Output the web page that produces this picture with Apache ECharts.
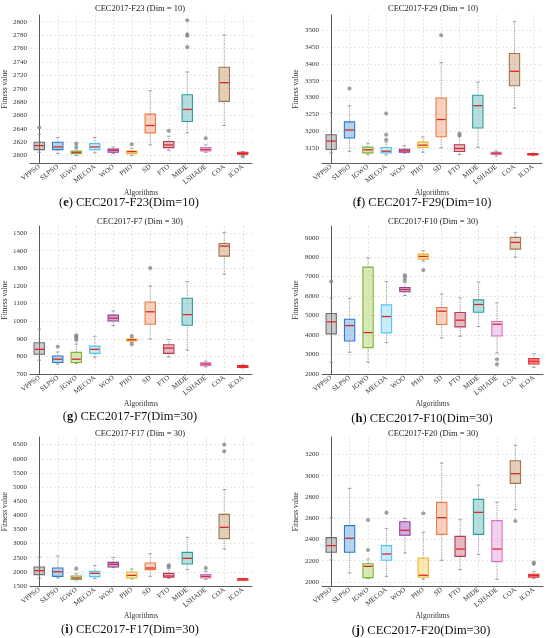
<!DOCTYPE html>
<html>
<head>
<meta charset="utf-8">
<script src="https://cdn.jsdelivr.net/npm/echarts@6.0.0/dist/echarts.min.js"></script>
<style>
  html, body { margin: 0; padding: 0; background: #fff; }
  #main { width: 550px; height: 638px; }
</style>
</head>
<body>
<div id="main"></div>
<script>
// algorithms (same order in all panels)
var algorithms = ['VPPSO', 'SLPSO', 'IGWO', 'MECOA', 'WOO', 'PHO', 'SD', 'FTO', 'MIDE', 'LSHADE', 'COA', 'ICOA'];
var algoIndex = [0, 1, 2, 3, 4, 5, 6, 7, 8, 9, 10, 11];

// box stats: [min, Q1, median, Q3, max]
var f23Stats = [
    [2605, 2609, 2615, 2620, 2632], [2603, 2609, 2613, 2620, 2627], [2600, 2603, 2605, 2607, 2610],
    [2604, 2609, 2613, 2618, 2627], [2603, 2605, 2608, 2610, 2613], [2600, 2603, 2606, 2607, 2611],
    [2616, 2634, 2645, 2662, 2697], [2608, 2612, 2616, 2621, 2629], [2634, 2651, 2669, 2691, 2725],
    [2605, 2607, 2609, 2612, 2616], [2645, 2681, 2709, 2732, 2780], [2601, 2602, 2603, 2605, 2606]
];
var f23Outliers = [[2642], [], [2613, 2618], [], [], [2617], [], [2637], [2762, 2779, 2781, 2802], [2626], [], [2599]];
var f23Ticks = [2600, 2620, 2640, 2660, 2680, 2700, 2720, 2740, 2760, 2780, 2800];
var f23Range = [2589, 2810];

var f29Stats = [
    [3136, 3146, 3171, 3190, 3255], [3141, 3180, 3204, 3228, 3276], [3131, 3136, 3145, 3153, 3165],
    [3130, 3136, 3141, 3152, 3168], [3135, 3138, 3142, 3147, 3157], [3138, 3152, 3159, 3168, 3183],
    [3151, 3184, 3235, 3299, 3404], [3131, 3140, 3149, 3160, 3184], [3153, 3210, 3276, 3307, 3346],
    [3127, 3131, 3135, 3138, 3142], [3269, 3335, 3378, 3431, 3525], [3128, 3130, 3132, 3134, 3135]
];
var f29Outliers = [[], [3327], [], [3175, 3190, 3253], [], [], [3485], [3188, 3193], [], [], [], []];
var f29Ticks = [3150, 3200, 3250, 3300, 3350, 3400, 3450, 3500];
var f29Range = [3106, 3545];

var f7Stats = [
    [778, 812, 840, 877, 955], [756, 765, 784, 802, 825], [760, 765, 784, 823, 870],
    [795, 817, 840, 858, 914], [975, 1001, 1017, 1034, 1058], [880, 888, 894, 899, 906],
    [899, 982, 1053, 1109, 1200], [797, 817, 847, 866, 896], [836, 977, 1037, 1130, 1225],
    [741, 747, 756, 763, 773], [1267, 1369, 1426, 1441, 1504], [734, 737, 743, 748, 752]
];
var f7Outliers = [[], [855], [893, 905, 912, 920], [], [], [869, 916], [1301], [], [], [], [], []];
var f7Ticks = [700, 800, 900, 1000, 1100, 1200, 1300, 1400, 1500];
var f7Range = [700, 1540];

var f10Stats = [
    [2600, 4058, 4676, 5105, 5894], [3115, 3698, 4487, 4813, 5894], [2617, 3355, 4127, 7489, 7969],
    [3612, 4110, 4950, 5551, 6751], [6030, 6220, 6340, 6443, 6700], [7800, 7900, 8038, 8158, 8329],
    [3852, 4539, 5225, 5413, 6117], [3938, 4419, 4762, 5156, 5911], [4436, 5173, 5568, 5808, 6717],
    [3080, 3955, 4556, 4693, 5654], [8003, 8415, 8758, 9015, 9256], [2343, 2515, 2652, 2789, 3046]
];
var f10Outliers = [[6751], [], [], [], [6820, 6970, 7077], [7335], [], [], [], [2755, 2497], [], []];
var f10Ticks = [2000, 3000, 4000, 5000, 6000, 7000, 8000, 9000];
var f10Range = [2000, 9600];

var f17Stats = [
    [1783, 1901, 2042, 2172, 2526], [1783, 1842, 2007, 2137, 2561], [1712, 1736, 1783, 1854, 1936],
    [1759, 1830, 1948, 2019, 2231], [2148, 2172, 2266, 2337, 2514], [1748, 1783, 1877, 1995, 2101],
    [1842, 2078, 2137, 2314, 2644], [1771, 1807, 1854, 1948, 2113], [2078, 2278, 2479, 2691, 3222],
    [1736, 1783, 1842, 1901, 2019], [2809, 3175, 3575, 4035, 4908], [1736, 1742, 1748, 1754, 1759]
];
var f17Outliers = [[], [], [2113], [], [], [], [], [2184, 2231], [], [2137], [6264, 6500], []];
var f17Ticks = [1500, 2000, 2500, 3000, 3500, 4000, 4500, 5000, 5500, 6000, 6500];
var f17Range = [1500, 6770];

var f20Stats = [
    [2207, 2279, 2342, 2417, 2605], [2085, 2279, 2411, 2530, 2881], [2031, 2041, 2147, 2172, 2216],
    [2053, 2204, 2263, 2342, 2502], [2273, 2439, 2486, 2567, 2599], [2025, 2044, 2063, 2226, 2467],
    [2204, 2448, 2605, 2749, 3119], [2116, 2241, 2310, 2429, 2586], [2257, 2448, 2655, 2777, 2912],
    [2025, 2191, 2310, 2577, 2752], [2680, 2928, 3019, 3141, 3288], [2031, 2044, 2060, 2072, 2097]
];
var f20Outliers = [[], [], [2301, 2583], [2652], [], [2646], [], [], [], [], [2574], [2172, 2182]];
var f20Ticks = [2000, 2200, 2400, 2600, 2800, 3000, 3200];
var f20Range = [1962, 3364];

// box border / fill colours per algorithm
var borderColors = ['#6f6f6f', '#2a7ccc', '#80b236', '#55c4ee', '#8e3d9e', '#f1b323',
                    '#ec7b46', '#b53a52', '#2c9d9d', '#d672cc', '#a4744b', '#ef2b2b'];
var fillColors = ['rgba(140,140,140,0.45)', 'rgba(90,155,220,0.45)', 'rgba(175,212,110,0.5)',
                  'rgba(150,218,246,0.5)', 'rgba(175,105,195,0.55)', 'rgba(250,212,110,0.5)',
                  'rgba(242,165,125,0.5)', 'rgba(212,115,135,0.5)', 'rgba(110,190,190,0.5)',
                  'rgba(232,165,226,0.5)', 'rgba(200,160,120,0.5)', 'rgba(245,90,90,0.65)'];

var FONT = 'Liberation Serif';

var panels = [
    {id: 'e', title: 'CEC2017-F23 (Dim = 10)', caption: 'CEC2017-F23(Dim=10)', stats: f23Stats, out: f23Outliers, ticks: f23Ticks, range: f23Range,
     grid: {left: 29, top: 15, width: 223, height: 148}, titleX: 140, titleY: 4, capX: 129, capY: 196},
    {id: 'f', title: 'CEC2017-F29 (Dim = 10)', caption: 'CEC2017-F29(Dim=10)', stats: f29Stats, out: f29Outliers, ticks: f29Ticks, range: f29Range,
     grid: {left: 322, top: 15, width: 220, height: 148}, titleX: 433, titleY: 4, capX: 422, capY: 196},
    {id: 'g', title: 'CEC2017-F7 (Dim = 30)', caption: 'CEC2017-F7(Dim=30)', stats: f7Stats, out: f7Outliers, ticks: f7Ticks, range: f7Range,
     grid: {left: 29, top: 226, width: 223, height: 148}, titleX: 140, titleY: 217, capX: 130, capY: 410},
    {id: 'h', title: 'CEC2017-F10 (Dim = 30)', caption: 'CEC2017-F10(Dim=30)', stats: f10Stats, out: f10Outliers, ticks: f10Ticks, range: f10Range,
     grid: {left: 322, top: 226, width: 221, height: 148}, titleX: 433, titleY: 217, capX: 422, capY: 412},
    {id: 'i', title: 'CEC2017-F17 (Dim = 30)', caption: 'CEC2017-F17(Dim=30)', stats: f17Stats, out: f17Outliers, ticks: f17Ticks, range: f17Range,
     grid: {left: 29, top: 437, width: 223, height: 149}, titleX: 140, titleY: 429, capX: 130, capY: 623},
    {id: 'j', title: 'CEC2017-F20 (Dim = 30)', caption: 'CEC2017-F20(Dim=30)', stats: f20Stats, out: f20Outliers, ticks: f20Ticks, range: f20Range,
     grid: {left: 322, top: 437, width: 221, height: 149}, titleX: 433, titleY: 429, capX: 421, capY: 624}
];

function renderBox(params, api) {
    var idx = api.value(0);
    var lo = api.coord([idx, api.value(1)]);
    var q1 = api.coord([idx, api.value(2)]);
    var md = api.coord([idx, api.value(3)]);
    var q3 = api.coord([idx, api.value(4)]);
    var hi = api.coord([idx, api.value(5)]);
    var bw = api.size([1, 0])[0] * 0.56;
    var cw = bw * 0.35;
    var x = q1[0];
    var whisker = {stroke: '#8c8c8c', lineWidth: 0.8, lineDash: [1.2, 1.2]};
    var cap = {stroke: '#8c8c8c', lineWidth: 0.8};
    return {
        type: 'group',
        children: [
            {type: 'line', shape: {x1: x, y1: lo[1], x2: x, y2: q1[1]}, style: whisker},
            {type: 'line', shape: {x1: x, y1: q3[1], x2: x, y2: hi[1]}, style: whisker},
            {type: 'line', shape: {x1: x - cw / 2, y1: lo[1], x2: x + cw / 2, y2: lo[1]}, style: cap},
            {type: 'line', shape: {x1: x - cw / 2, y1: hi[1], x2: x + cw / 2, y2: hi[1]}, style: cap},
            {type: 'rect', shape: {x: x - bw / 2, y: q3[1], width: bw, height: Math.max(q1[1] - q3[1], 1.5)},
             style: {fill: fillColors[idx], stroke: borderColors[idx], lineWidth: 1.1}},
            {type: 'line', shape: {x1: x - bw / 2 + 0.6, y1: md[1], x2: x + bw / 2 - 0.6, y2: md[1]},
             style: {stroke: '#d42a2a', lineWidth: 1.3}}
        ]
    };
}

var grids = [], xAxes = [], yAxes = [], series = [], titles = [];

panels.forEach(function (p, k) {
    grids.push(p.grid);
    // value axis with one unit per algorithm, so grid lines run through the box centres
    xAxes.push({
        type: 'value',
        gridIndex: k,
        min: -0.5,
        max: 11.5,
        name: 'Algorithms',
        nameLocation: 'middle',
        nameGap: 26,
        nameTextStyle: {fontFamily: FONT, fontSize: 7.5, color: '#333'},
        axisLine: {lineStyle: {color: '#333', width: 0.8}},
        axisTick: {show: false, customValues: algoIndex},
        axisLabel: {
            customValues: algoIndex, rotate: 38, fontFamily: FONT, fontSize: 7, color: '#333', margin: 3,
            formatter: function (v) { return algorithms[Math.round(v)]; }
        },
        splitLine: {show: true, lineStyle: {color: '#d6d6d6', type: [2, 2], width: 0.6}}
    });
    yAxes.push({
        type: 'value',
        gridIndex: k,
        min: p.range[0],
        max: p.range[1],
        name: 'Fitness value',
        nameLocation: 'middle',
        nameGap: k % 2 === 0 ? 21 : 22,
        nameTextStyle: {fontFamily: FONT, fontSize: 7.5, color: '#333'},
        axisLine: {show: true, lineStyle: {color: '#333', width: 0.8}},
        axisTick: {show: false, customValues: p.ticks},
        axisLabel: {customValues: p.ticks, fontFamily: FONT, fontSize: 7, color: '#333', margin: 3,
                    formatter: function (v) { return String(v); }},
        splitLine: {show: true, lineStyle: {color: '#d6d6d6', type: [2, 2], width: 0.6}}
    });
    series.push({
        type: 'custom',
        xAxisIndex: k,
        yAxisIndex: k,
        renderItem: renderBox,
        encode: {x: 0, y: [1, 2, 3, 4, 5]},
        data: p.stats.map(function (s, i) { return [i].concat(s); }),
        z: 2
    });
    var pts = [];
    p.out.forEach(function (vals, i) {
        vals.forEach(function (v) { pts.push([i, v]); });
    });
    series.push({
        type: 'scatter',
        xAxisIndex: k,
        yAxisIndex: k,
        data: pts,
        symbolSize: 3.6,
        itemStyle: {color: '#8a8a8a', borderColor: '#777', borderWidth: 0.4},
        z: 3
    });
    titles.push({
        text: p.title,
        left: p.titleX,
        top: p.titleY,
        textAlign: 'center',
        padding: 0,
        textStyle: {fontFamily: FONT, fontSize: 8.5, fontWeight: 'normal', color: '#222'}
    });
    titles.push({
        text: '({b|' + p.id + '}) ' + p.caption,
        left: p.capX,
        top: p.capY,
        textAlign: 'center',
        padding: 0,
        textStyle: {
            fontFamily: FONT, fontSize: 12.5, fontWeight: 'normal', color: '#111',
            rich: {b: {fontFamily: FONT, fontSize: 12.5, fontWeight: 'bold', color: '#111'}}
        }
    });
});

var chart = echarts.init(document.getElementById('main'));
chart.setOption({
    backgroundColor: '#fff',
    animation: false,
    title: titles,
    grid: grids,
    xAxis: xAxes,
    yAxis: yAxes,
    series: series
});
</script>
</body>
</html>
